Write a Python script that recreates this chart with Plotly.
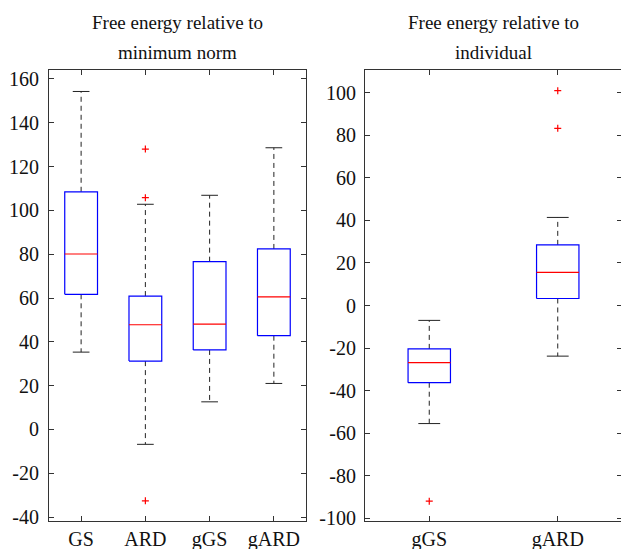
import plotly.graph_objects as go

# ---- data ----
left_cats = ["GS", "ARD", "gGS", "gARD"]
left_lower = [35.3, -6.8, 12.6, 21.0]
left_q1 = [61.7, 31.2, 36.3, 42.8]
left_median = [80.1, 47.8, 48.1, 60.5]
left_q3 = [108.5, 60.9, 76.6, 82.4]
left_upper = [154.3, 102.8, 106.9, 128.6]
left_outliers = [[], [128.0, 105.8, -32.6], [], []]

right_cats = ["gGS", "gARD"]
right_lower = [-55.5, -23.8]
right_q1 = [-36.3, 3.3]
right_median = [-26.9, 15.6]
right_q3 = [-20.4, 28.5]
right_upper = [-7.0, 41.4]
right_outliers = [[-92.0], [101.0, 83.3]]

left_yticks = list(range(-40, 161, 20))
right_yticks = list(range(-100, 101, 20))

titles_left = ["Free energy relative to", "minimum norm"]
titles_right = ["Free energy relative to", "individual"]

FONT = "Liberation Serif"
fig = go.Figure()


def add_boxes(cats, lo, q1, med, q3, up, outl, xa, ya, half_w, cap_w):
    bx, by, mx, my, wx, wy, cx, cy, ox, oy = [], [], [], [], [], [], [], [], [], []
    for i in range(len(cats)):
        p = i + 1
        bx += [p - half_w, p + half_w, p + half_w, p - half_w, p - half_w, None]
        by += [q1[i], q1[i], q3[i], q3[i], q1[i], None]
        mx += [p - half_w, p + half_w, None]
        my += [med[i], med[i], None]
        wx += [p, p, None, p, p, None]
        wy += [q3[i], up[i], None, q1[i], lo[i], None]
        cx += [p - cap_w, p + cap_w, None, p - cap_w, p + cap_w, None]
        cy += [up[i], up[i], None, lo[i], lo[i], None]
        for v in outl[i]:
            ox.append(p)
            oy.append(v)
    common = dict(xaxis=xa, yaxis=ya, showlegend=False, hoverinfo="skip")
    fig.add_trace(go.Scatter(x=wx, y=wy, mode="lines",
                             line=dict(color="#222222", width=1, dash="5px,4px"), **common))
    fig.add_trace(go.Scatter(x=cx, y=cy, mode="lines",
                             line=dict(color="#222222", width=1), **common))
    fig.add_trace(go.Scatter(x=bx, y=by, mode="lines",
                             line=dict(color="#0000ff", width=1.2), **common))
    fig.add_trace(go.Scatter(x=mx, y=my, mode="lines",
                             line=dict(color="#ff0000", width=1.2), **common))
    fig.add_trace(go.Scatter(x=ox, y=oy, mode="markers",
                             marker=dict(symbol="cross-thin", size=5,
                                         line=dict(color="#ff0000", width=1.2)), **common))


add_boxes(left_cats, left_lower, left_q1, left_median, left_q3, left_upper,
          left_outliers, "x", "y", 0.255, 0.13)
add_boxes(right_cats, right_lower, right_q1, right_median, right_q3, right_upper,
          right_outliers, "x2", "y2", 0.165, 0.085)

axis_common = dict(showgrid=False, zeroline=False, showline=True, linecolor="#333333",
                   linewidth=1, mirror="allticks", ticks="inside", ticklen=5,
                   automargin=False,
                   tickcolor="#333333", tickfont=dict(family=FONT, size=20, color="#111111"))

# page body has an 8px default margin, so the figure is 8px smaller than the window
fig.update_layout(
    width=621, height=541,
    margin=dict(l=41, r=7, t=62, b=28, autoexpand=False),
    paper_bgcolor="white", plot_bgcolor="white",
    xaxis=dict(domain=[0, 0.4485], range=[0.5, len(left_cats) + 0.5],
               tickvals=list(range(1, len(left_cats) + 1)), ticktext=left_cats,
               ticklabelstandoff=0, **axis_common),
    yaxis=dict(range=[-41.8, 164.1], tickvals=left_yticks, ticklabelstandoff=5,
               ticktext=[str(v) for v in left_yticks], **axis_common),
    xaxis2=dict(domain=[0.5515, 1], range=[0.5, len(right_cats) + 0.5], anchor="y2",
                tickvals=list(range(1, len(right_cats) + 1)), ticktext=right_cats,
                ticklabelstandoff=0, **axis_common),
    yaxis2=dict(range=[-101.3, 110.7], anchor="x2", tickvals=right_yticks,
                ticklabelstandoff=4,
                ticktext=[str(v) for v in right_yticks], **axis_common),
)

for xr, lines in (("x domain", titles_left), ("x2 domain", titles_right)):
    for k, t in enumerate(lines):
        fig.add_annotation(text=t, xref=xr, yref="paper", x=0.5,
                           y=[1.1064, 1.0377][k], xanchor="center", yanchor="middle",
                           showarrow=False, font=dict(family=FONT, size=19, color="#111111"))

fig.write_html("out.html")
